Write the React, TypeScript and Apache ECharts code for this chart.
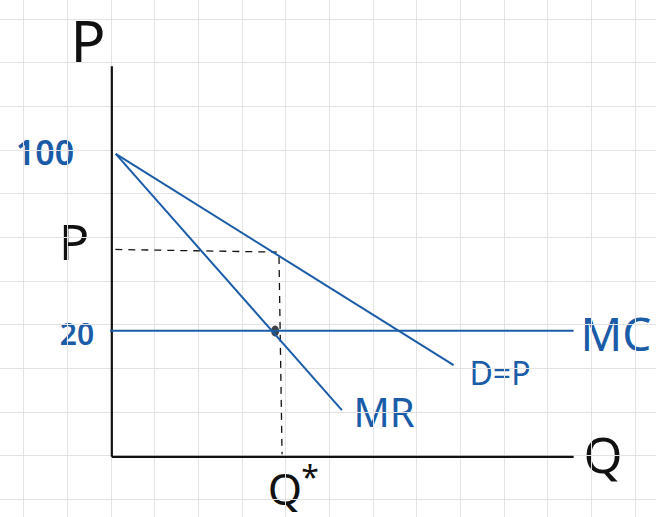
import React, { useEffect, useRef } from "react";
import * as echarts from "echarts";

// Coordinates in grid-paper cells (Q to the right, P upward), origin at the axes' corner
const demandQ = [0.11, 7.85];
const demandP = [6.91, 2.07];
const mrQ = [0.11, 5.29];
const mrP = [6.91, 1.04];
const mcQ = [-0.02, 10.6];
const mcP = [2.86, 2.86];
const priceDashQ = [0.1, 3.8];
const priceDashP = [4.72, 4.66];
const qDashQ = [3.85, 3.92];
const qDashP = [4.55, 0.03];
const optimumQ = [3.76];
const optimumP = [2.85];
const pAxisQ = [0.02, 0.02];
const pAxisP = [8.92, -0.03];
const qAxisQ = [0.02, 10.6];
const qAxisP = [-0.03, -0.03];

const BLUE = "#1a5ca8";
const INK = "#111111";

const pairs = (xs: number[], ys: number[]) => xs.map((x, i) => [x, ys[i]]);

export default function App() {
  const ref = useRef<HTMLDivElement>(null);
  useEffect(() => {
    document.body.style.margin = "0";
    const chart = echarts.init(ref.current!, undefined, { renderer: "svg" });
    const line = (name: string, xs: number[], ys: number[], color: string, width: number, type: any = "solid") => ({
      name,
      type: "line",
      data: pairs(xs, ys),
      symbol: "none",
      lineStyle: { color, width, type },
      silent: true,
    });
    const txt = (text: string, x: number, y: number, color: string, size: number, weight: any = "normal") => ({
      type: "text",
      x,
      y,
      style: {
        text,
        fill: color,
        font: `${weight} ${size}px "Noto Sans"`,
        textAlign: "center",
        textVerticalAlign: "middle",
      },
    });
    chart.setOption({
      animation: false,
      backgroundColor: "#ffffff",
      grid: { left: -20, right: -22.4, top: -24.65, bottom: -25.8, outerBoundsMode: "none" },
      xAxis: {
        type: "value",
        min: -3,
        max: 13,
        interval: 1,
        axisLine: { show: false },
        axisTick: { show: false },
        axisLabel: { show: false },
        splitLine: { show: true, lineStyle: { color: "#e3e3e3", width: 1 } },
      },
      yAxis: {
        type: "value",
        min: -2,
        max: 11,
        interval: 1,
        axisLine: { show: false },
        axisTick: { show: false },
        axisLabel: { show: false },
        splitLine: { show: true, lineStyle: { color: "#e3e3e3", width: 1 } },
      },
      series: [
        line("P axis", pAxisQ, pAxisP, INK, 2.2),
        line("Q axis", qAxisQ, qAxisP, INK, 2.2),
        line("Price", priceDashQ, priceDashP, INK, 1.3, [7, 6]),
        line("Q*", qDashQ, qDashP, INK, 1.3, [7, 6]),
        line("MC", mcQ, mcP, BLUE, 2),
        line("D=P", demandQ, demandP, BLUE, 2),
        line("MR", mrQ, mrP, BLUE, 2),
        {
          name: "Optimum",
          type: "scatter",
          data: pairs(optimumQ, optimumP),
          symbol: "circle",
          symbolSize: [8, 11],
          itemStyle: { color: INK },
          silent: true,
        },
      ],
      graphic: [
        txt("P", 88, 40, INK, 58),
        txt("P", 74, 241, INK, 50),
        txt("100", 45, 152, BLUE, 34, 600),
        txt("20", 77, 333, BLUE, 30, 600),
        txt("MC", 616, 333, BLUE, 46),
        txt("D=P", 500, 372, BLUE, 32),
        txt("MR", 384, 411, BLUE, 40),
        txt("Q", 603, 454, INK, 50),
        txt("Q", 285, 488, INK, 44),
        txt("*", 310, 476, INK, 32),
      ],
    });
    return () => chart.dispose();
  }, []);
  return <div ref={ref} style={{ width: 656, height: 517 }} />;
}
